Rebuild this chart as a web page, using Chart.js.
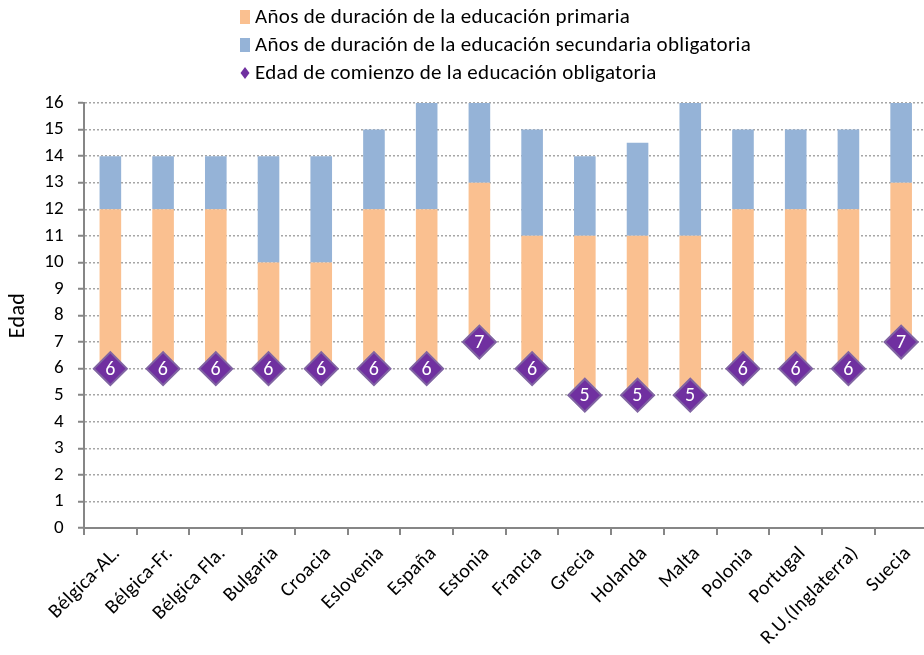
<!DOCTYPE html>
<html>
<head>
<meta charset="utf-8">
<script src="https://cdn.jsdelivr.net/npm/chart.js@4/dist/chart.umd.min.js"></script>
<style>
  html, body { margin: 0; padding: 0; background: #fff; overflow: hidden; }
  #wrap { width: 924px; height: 655px; overflow: hidden; }
  canvas { display: block; }
</style>
</head>
<body>
<div id="wrap"><canvas id="c" width="946" height="655"></canvas></div>
<script>
const categories = ['Bélgica-AL.', 'Bélgica-Fr.', 'Bélgica Fla.', 'Bulgaria', 'Croacia', 'Eslovenia', 'España', 'Estonia', 'Francia', 'Grecia', 'Holanda', 'Malta', 'Polonia', 'Portugal', 'R.U.(Inglaterra)', 'Suecia'];
const startAge      = [6, 6, 6, 6, 6, 6, 6, 7, 6, 5, 5, 5, 6, 6, 6, 7];
const primaryEnd    = [12, 12, 12, 10, 10, 12, 12, 13, 11, 11, 11, 11, 12, 12, 12, 13];
const secondaryEnd  = [14, 14, 14, 14, 14, 15, 16, 16, 15, 14, 14.5, 16, 15, 15, 15, 16];
const yTicks = [0, 1, 2, 3, 4, 5, 6, 7, 8, 9, 10, 11, 12, 13, 14, 15, 16];

const FONT = "'Carlito', 'Open Sans', sans-serif";
const SPACING = '0.3px';
const ORANGE = '#FAC090';
const BLUE = '#95B3D7';
const PURPLE = '#7030A0';
const PURPLE_EDGE = '#8064A2';
const AXIS = '#868686';

const primaryBars = categories.map((_, i) => [startAge[i], primaryEnd[i]]);
const secondaryBars = categories.map((_, i) => [primaryEnd[i], secondaryEnd[i]]);

// Slightly open letter spacing for all canvas text
const spacing = {
  id: 'spacing',
  beforeUpdate(chart) { chart.ctx.letterSpacing = SPACING; },
  beforeDraw(chart) { chart.ctx.letterSpacing = SPACING; }
};

// Vertical legend above the plot plus the white numbers inside the diamonds
const extras = {
  id: 'extras',
  afterDraw(chart) {
    const ctx = chart.ctx;
    ctx.save();
    ctx.letterSpacing = SPACING;
    ctx.font = '21px ' + FONT;
    ctx.textBaseline = 'middle';
    ctx.textAlign = 'left';
    const ds = chart.data.datasets;
    const rows = [
      { label: ds[0].label, kind: 'box', color: ORANGE, y: 17 },
      { label: ds[1].label, kind: 'box', color: BLUE, y: 45 },
      { label: ds[2].label, kind: 'diamond', color: PURPLE, y: 73 }
    ];
    const mx = 245;
    rows.forEach(r => {
      ctx.fillStyle = r.color;
      if (r.kind === 'box') {
        ctx.fillRect(mx - 5, r.y - 7, 10, 14);
      } else {
        ctx.beginPath();
        ctx.moveTo(mx, r.y - 6);
        ctx.lineTo(mx + 4.5, r.y);
        ctx.lineTo(mx, r.y + 6);
        ctx.lineTo(mx - 4.5, r.y);
        ctx.closePath();
        ctx.fill();
      }
      ctx.fillStyle = '#000';
      ctx.fillText(r.label, 255, r.y + 1);
    });

    // value labels on the start-age markers
    const meta = chart.getDatasetMeta(2);
    ctx.font = '20px ' + FONT;
    ctx.textAlign = 'center';
    ctx.fillStyle = '#fff';
    meta.data.forEach((pt, i) => {
      ctx.fillText(String(startAge[i]), pt.x, pt.y + 1);
    });
    ctx.restore();
  }
};

new Chart(document.getElementById('c'), {
  type: 'bar',
  data: {
    labels: categories,
    datasets: [
      {
        label: 'Años de duración de la educación primaria',
        data: primaryBars,
        backgroundColor: ORANGE,
        grouped: false,
        barPercentage: 0.41,
        categoryPercentage: 1,
        order: 2
      },
      {
        label: 'Años de duración de la educación secundaria obligatoria',
        data: secondaryBars,
        backgroundColor: BLUE,
        grouped: false,
        barPercentage: 0.41,
        categoryPercentage: 1,
        order: 2
      },
      {
        type: 'line',
        label: 'Edad de comienzo de la educación obligatoria',
        data: startAge,
        showLine: false,
        pointStyle: 'rectRot',
        pointRadius: 16.5,
        pointHoverRadius: 16.5,
        pointBackgroundColor: PURPLE,
        pointBorderColor: PURPLE_EDGE,
        pointBorderWidth: 2,
        order: 1
      }
    ]
  },
  options: {
    responsive: false,
    animation: false,
    events: [],
    layout: { padding: { top: 103, right: 0, left: 0, bottom: 0 } },
    plugins: {
      legend: { display: false },
      tooltip: { enabled: false }
    },
    scales: {
      x: {
        offset: true,
        afterFit(axis) { axis.height = 127; },
        grid: {
          offset: true,
          drawOnChartArea: false,
          drawTicks: true,
          tickLength: 7,
          color: AXIS,
          lineWidth: 2
        },
        border: { color: AXIS, width: 2 },
        ticks: {
          color: '#000',
          font: { family: FONT, size: 20 },
          maxRotation: 45,
          minRotation: 45,
          autoSkip: false,
          padding: 7,
          labelOffset: 7
        }
      },
      y: {
        min: 0,
        max: 16,
        afterFit(axis) { axis.width = 84; },
        afterBuildTicks(axis) { axis.ticks = yTicks.map(v => ({ value: v })); },
        grid: {
          color: '#A6A6A6',
          lineWidth: 1.5,
          tickLength: 6,
          tickColor: AXIS,
          tickWidth: 2,
          tickBorderDash: []
        },
        border: { color: AXIS, width: 2, dash: [2, 2] },
        ticks: {
          color: '#000',
          font: { family: FONT, size: 19 },
          padding: 14
        },
        title: {
          display: true,
          text: 'Edad',
          color: '#000',
          font: { family: FONT, size: 22 },
          padding: { top: 5, bottom: 0 }
        }
      }
    }
  },
  plugins: [spacing, extras]
});
</script>
</body>
</html>
